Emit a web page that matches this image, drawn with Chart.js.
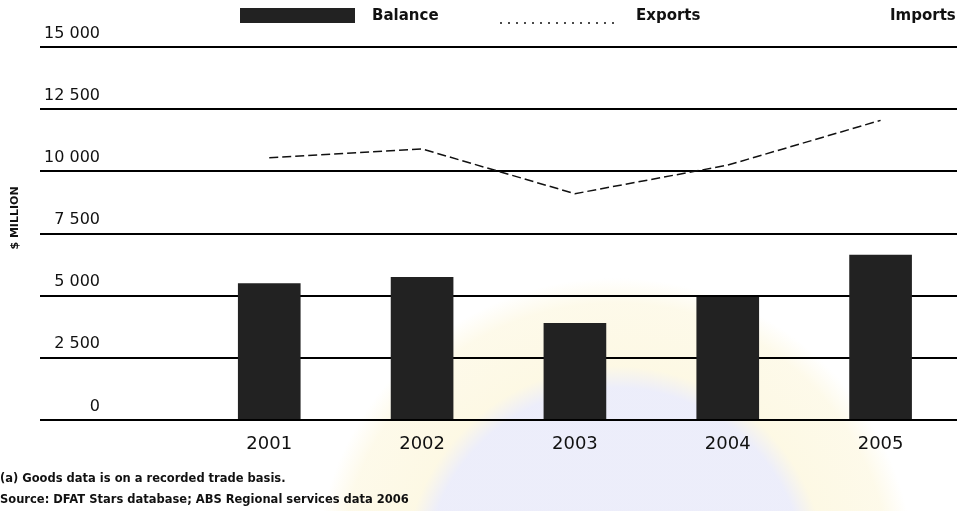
<!DOCTYPE html>
<html>
<head>
<meta charset="utf-8">
<title>Trade balance, exports and imports</title>
<script src="https://cdn.jsdelivr.net/npm/chart.js@4.4.0/dist/chart.umd.min.js"></script>
<style>
  html, body { margin: 0; padding: 0; background: #fff; }
  body { width: 957px; height: 511px; overflow: hidden; }
  /* faint printed seal behind the chart */
  #wrap {
    position: relative; width: 957px; height: 511px;
    background:
      radial-gradient(circle at 615px 578px,
        rgba(218, 220, 246, 0.5) 0px,
        rgba(218, 220, 246, 0.5) 190px,
        rgba(251, 242, 202, 0.5) 212px,
        rgba(251, 242, 202, 0.4) 275px,
        rgba(255, 255, 255, 0) 300px);
  }
  canvas { display: block; }
</style>
</head>
<body>
<div id="wrap"><canvas id="chart" width="957" height="511"></canvas></div>
<script>
// Financial years shown on the category axis
const years = ['2001', '2002', '2003', '2004', '2005'];
// $ million
const balanceValues = [5500, 5750, 3900, 4950, 6650];
const exportValues = [10550, 10900, 9100, 10250, 12050];
const importValues = [];
// value axis
const yMin = 0;
const yMax = 15000;
const yStep = 2500;
const yAxisTitle = '$ MILLION';
const notes = [
  '(a) Goods data is on a recorded trade basis.',
  'Source: DFAT Stars database; ABS Regional services data 2006'
];

// first slot is left empty so the value labels sit clear of the bars
const slotLabels = [''].concat(years);
const padSeries = arr => [null].concat(arr);

const FONT = "'DejaVu Sans', 'Liberation Sans', sans-serif";
const INK = '#111';

function spaced(v) {
  return String(v).replace(/\B(?=(\d{3})+(?!\d))/g, ' ');
}

// key across the top plus the rotated unit label
const keyAndUnit = {
  id: 'keyAndUnit',
  afterDraw(chart, args, opts) {
    const ctx = chart.ctx;
    ctx.save();
    chart.data.datasets.forEach((ds, i) => {
      const x = opts.symbolStarts[i];
      const w = opts.symbolWidth;
      if (ds.type === 'bar') {
        ctx.fillStyle = ds.backgroundColor;
        ctx.fillRect(x, 8, w, 15);
      } else {
        ctx.strokeStyle = ds.borderColor;
        ctx.lineWidth = 1.5;
        ctx.setLineDash([2, 6]);
        ctx.beginPath();
        ctx.moveTo(x, 23);
        ctx.lineTo(x + w, 23);
        ctx.stroke();
        ctx.setLineDash([]);
      }
      ctx.fillStyle = INK;
      ctx.font = 'bold 15px ' + FONT;
      ctx.textAlign = 'left';
      ctx.textBaseline = 'middle';
      ctx.fillText(ds.label, opts.textStarts[i], 16);
    });

    ctx.translate(15, 218);
    ctx.rotate(-Math.PI / 2);
    ctx.font = 'bold 11px ' + FONT;
    ctx.textAlign = 'center';
    ctx.textBaseline = 'middle';
    ctx.fillStyle = INK;
    ctx.fillText(yAxisTitle, 0, 0);
    ctx.restore();
  }
};

new Chart(document.getElementById('chart'), {
  data: {
    labels: slotLabels,
    datasets: [
      {
        type: 'bar',
        label: 'Balance',
        data: padSeries(balanceValues),
        backgroundColor: '#222',
        barPercentage: 0.41,
        categoryPercentage: 1,
        order: 2
      },
      {
        type: 'line',
        label: 'Exports',
        data: padSeries(exportValues),
        borderColor: INK,
        borderWidth: 1.5,
        borderDash: [9, 4],
        pointRadius: 0,
        tension: 0,
        fill: false,
        order: 1
      },
      {
        type: 'line',
        label: 'Imports',
        data: importValues,
        borderColor: 'rgba(255,255,255,0)',
        borderWidth: 1.5,
        pointRadius: 0,
        fill: false,
        order: 0
      }
    ]
  },
  options: {
    responsive: false,
    animation: false,
    events: [],
    layout: { padding: { top: 47, left: 0, right: 0, bottom: 0 } },
    scales: {
      x: {
        type: 'category',
        grid: { display: false, drawTicks: false },
        border: { display: false },
        ticks: {
          color: INK,
          font: { family: FONT, size: 18 },
          padding: 13.7,
          maxRotation: 0,
          autoSkip: false
        }
      },
      y: {
        type: 'linear',
        min: yMin,
        max: yMax,
        grid: {
          color: '#000',
          lineWidth: 2,
          drawTicks: true,
          tickLength: 32,
          tickColor: 'rgba(0,0,0,0)'
        },
        border: { display: false },
        ticks: {
          stepSize: yStep,
          mirror: true,
          crossAlign: 'far',
          padding: 4,
          labelOffset: -13.5,
          color: INK,
          font: { family: FONT, size: 16 },
          callback: v => spaced(v)
        }
      }
    },
    plugins: {
      legend: { display: false },
      tooltip: { enabled: false },
      title: {
        display: true,
        position: 'bottom',
        align: 'start',
        text: notes,
        color: INK,
        padding: { top: 0, bottom: 0 },
        font: { family: FONT, size: 11.5, weight: 'bold', lineHeight: 21 / 11.5 }
      },
      keyAndUnit: {
        symbolStarts: [240, 500, 760],
        textStarts: [372, 636, 890],
        symbolWidth: 115
      }
    }
  },
  plugins: [keyAndUnit]
});
</script>
</body>
</html>
